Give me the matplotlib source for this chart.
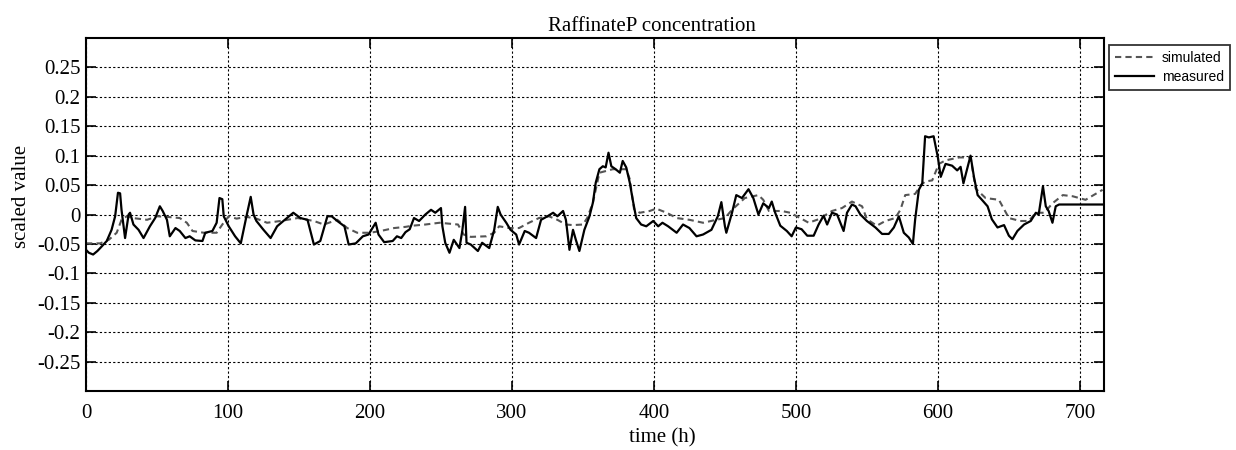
import matplotlib
matplotlib.use('Agg')
import matplotlib.pyplot as plt

# measured concentration
t_meas = [0, 2, 5, 8, 10, 14.6, 18, 20.5, 22.5, 24, 25, 27.5, 30, 31, 33.4, 37, 40.5, 45, 48.7, 52,
          54, 57, 59, 63, 66, 70, 73, 77, 82, 84, 89, 92, 94, 96, 97, 100.5, 105, 109, 111, 113,
          116, 118, 120, 125, 130, 134.6, 139, 146, 151, 156, 160.5, 165, 170, 173, 177, 182, 185, 190, 195, 199,
          204, 206, 210, 216, 219, 222, 225, 228, 231, 234.6, 239, 243, 246, 250, 251, 253, 256, 259, 263, 265,
          267, 268, 271, 276, 279, 284, 287.5, 290, 292, 296, 299, 303, 305, 309, 312, 317, 320.5, 325, 329, 332,
          336, 338, 340.5, 343, 345, 347.5, 351, 354.6, 357, 359, 361.6, 364, 366, 368, 370, 373, 376, 378, 380.5, 383,
          385, 387.5, 391, 394.6, 399.5, 403, 406, 410, 416, 420.5, 425, 430, 434.6, 440.5, 445, 447.5, 450, 451, 455, 458,
          462, 466.6, 470, 473.6, 477, 481, 483, 485.4, 489, 493.6, 497, 500, 504, 508, 512.5, 516, 519.5, 522, 525.4, 529,
          533.6, 536, 539.5, 542, 545.4, 550, 556, 560.7, 565.4, 569, 572.5, 576, 579.5, 582.4, 584, 586.6, 589, 591, 593.6, 597,
          600, 602, 605.4, 610, 613.6, 616, 618, 620.7, 623, 625.4, 628, 631, 635, 638, 642, 646.6, 650, 652.5, 656, 660.7,
          665.4, 669, 671, 674, 676, 678, 680.7, 683, 685.4, 716]
v_meas = [-0.060, -0.065, -0.068, -0.062, -0.057, -0.045, -0.026, -0.003, 0.037, 0.036, 0.008, -0.040, 0.000, 0.003, -0.017, -0.026, -0.040, -0.020, -0.006, 0.014,
          0.006, -0.009, -0.037, -0.023, -0.028, -0.040, -0.037, -0.044, -0.045, -0.031, -0.028, -0.014, 0.028, 0.026, -0.003, -0.020, -0.037, -0.049, -0.026, -0.003,
          0.030, 0.000, -0.011, -0.026, -0.040, -0.020, -0.011, 0.003, -0.006, -0.009, -0.051, -0.045, -0.003, -0.003, -0.011, -0.020, -0.051, -0.049, -0.037, -0.034,
          -0.014, -0.034, -0.047, -0.045, -0.037, -0.040, -0.030, -0.025, -0.006, -0.011, 0.000, 0.008, 0.003, 0.011, -0.020, -0.048, -0.065, -0.043, -0.057, -0.028,
          0.013, -0.048, -0.051, -0.062, -0.048, -0.057, -0.026, 0.013, 0.000, -0.014, -0.026, -0.034, -0.051, -0.028, -0.031, -0.040, -0.009, -0.003, 0.003, -0.003,
          0.006, -0.009, -0.060, -0.026, -0.043, -0.062, -0.026, -0.003, 0.020, 0.054, 0.077, 0.082, 0.080, 0.105, 0.082, 0.077, 0.071, 0.091, 0.080, 0.054,
          0.026, -0.006, -0.017, -0.020, -0.011, -0.020, -0.014, -0.020, -0.031, -0.017, -0.023, -0.037, -0.034, -0.026, -0.003, 0.021, -0.020, -0.031, 0.003, 0.033,
          0.028, 0.043, 0.028, 0.000, 0.019, 0.011, 0.022, 0.003, -0.019, -0.028, -0.037, -0.022, -0.025, -0.036, -0.036, -0.017, -0.002, -0.017, 0.003, 0.000,
          -0.028, 0.003, 0.017, 0.014, 0.000, -0.011, -0.022, -0.033, -0.033, -0.022, -0.003, -0.031, -0.039, -0.050, -0.008, 0.042, 0.053, 0.133, 0.131, 0.133,
          0.097, 0.064, 0.086, 0.083, 0.075, 0.081, 0.053, 0.078, 0.100, 0.064, 0.033, 0.025, 0.014, -0.008, -0.022, -0.018, -0.036, -0.042, -0.028, -0.017,
          -0.011, 0.003, 0.000, 0.048, 0.014, 0.006, -0.014, 0.014, 0.017, 0.017]

# simulated concentration
t_sim = [0, 10, 16, 21.6, 25, 28.7, 33, 43, 50, 57, 66, 71, 75, 83, 92, 96, 100.5, 106, 113, 120,
         127.5, 137, 149, 160.5, 167.5, 177, 184, 191, 200, 207.5, 217, 225, 230, 239, 249, 262, 266, 271, 282, 287.5,
         291, 298, 305, 312, 319, 326, 332, 338, 343, 350, 353, 357, 361.6, 371, 376, 380.5, 383, 386, 390, 397,
         401.6, 409, 416, 425, 434.6, 444, 450, 455, 464, 473.6, 477, 481, 490, 496, 503, 509, 516, 525.4, 532.5, 539.5,
         546.6, 550, 557, 563, 570, 573.6, 577, 584, 588, 591, 596, 600.7, 605.4, 615, 623, 626.6, 633.6, 643, 650, 658,
         664, 669, 675, 680.7, 688, 695, 704, 716]
v_sim = [-0.049, -0.049, -0.043, -0.031, -0.009, -0.003, -0.006, -0.009, -0.003, -0.004, -0.006, -0.014, -0.028, -0.031, -0.031, -0.017, -0.003, -0.007, -0.004, -0.007,
         -0.014, -0.011, -0.006, -0.011, -0.017, -0.009, -0.023, -0.031, -0.031, -0.028, -0.023, -0.021, -0.019, -0.017, -0.014, -0.017, -0.034, -0.038, -0.037, -0.031,
         -0.020, -0.023, -0.023, -0.014, -0.006, -0.003, -0.009, -0.017, -0.018, -0.017, -0.006, 0.020, 0.071, 0.077, 0.077, 0.077, 0.060, 0.009, 0.003, 0.006,
         0.010, 0.003, -0.006, -0.009, -0.014, -0.009, -0.006, 0.008, 0.028, 0.033, 0.025, 0.006, 0.006, 0.003, -0.006, -0.014, -0.008, 0.006, 0.011, 0.022,
         0.014, -0.008, -0.019, -0.011, -0.006, 0.008, 0.033, 0.035, 0.050, 0.056, 0.058, 0.086, 0.092, 0.097, 0.097, 0.044, 0.028, 0.025, -0.006, -0.011,
         -0.011, 0.003, 0.003, 0.019, 0.033, 0.031, 0.025, 0.042]

x_ticks = [0, 100, 200, 300, 400, 500, 600, 700]
y_ticks = [-0.25, -0.2, -0.15, -0.1, -0.05, 0, 0.05, 0.1, 0.15, 0.2, 0.25]
y_labels = ['-0.25', '-0.2', '-0.15', '-0.1', '-0.05', '0', '0.05', '0.1', '0.15', '0.2', '0.25']

plt.rcParams['font.family'] = ['Liberation Serif', 'DejaVu Serif']

fig = plt.figure(figsize=(12.36, 4.5), dpi=100)
ax = fig.add_axes([0.0696, 0.131, 0.8236, 0.7846])

ax.plot(t_sim, v_sim, color='#555555', linestyle=(0, (3, 2)), linewidth=1.5, label='simulated')
ax.plot(t_meas, v_meas, color='black', linewidth=1.6, label='measured')

ax.set_xlim(0, 717)
ax.set_ylim(-0.3, 0.3)
ax.set_xticks(x_ticks)
ax.set_yticks(y_ticks)
ax.set_yticklabels(y_labels)
ax.tick_params(direction='in', top=True, right=True, labelsize=15, length=7, width=1.2)
ax.tick_params(axis='x', pad=9)
ax.tick_params(axis='y', pad=4)
ax.grid(True, color='black', linestyle=(0, (2, 2)), linewidth=0.8)
for s in ax.spines.values():
    s.set_linewidth(1.5)

# title and labels sit a bit off-centre in the original
ax.set_title('RaffinateP concentration', fontsize=15, x=0.556, pad=5)
ax.set_xlabel('time (h)', fontsize=15)
ax.xaxis.set_label_coords(0.566, -0.105)
ax.set_ylabel('scaled value', fontsize=15)
ax.yaxis.set_label_coords(-0.054, 0.55)

leg = fig.legend(loc='upper left', bbox_to_anchor=(0.897, 0.9), borderaxespad=0,
                 prop={'family': 'Liberation Sans', 'size': 10}, frameon=True, fancybox=False,
                 edgecolor='black', handlelength=2.8, handletextpad=0.6, borderpad=0.45, labelspacing=0.35)
leg.get_frame().set_linewidth(1.3)

fig.savefig('out.png', dpi=100)
